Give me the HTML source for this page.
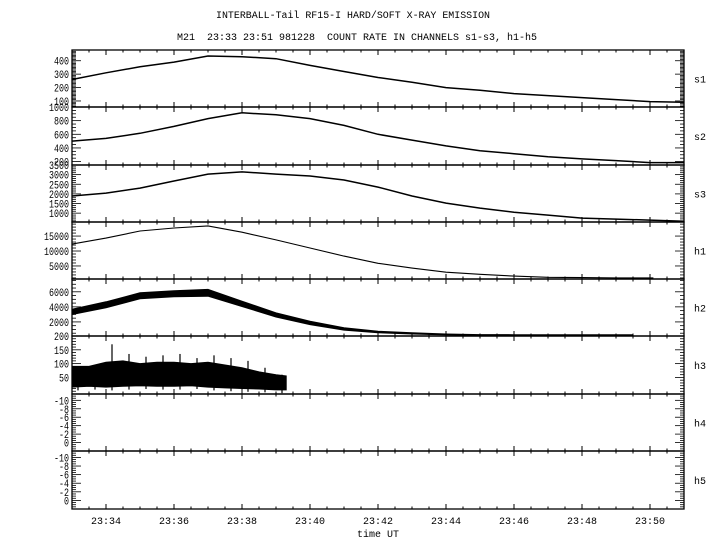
<!DOCTYPE html>
<html><head><meta charset="utf-8">
<style>
html,body{margin:0;padding:0;background:#fff;}
svg{display:block;font-family:"Liberation Mono","DejaVu Sans Mono",monospace;}
</style></head>
<body>
<svg id="chart" width="720" height="550" viewBox="0 0 720 550" xmlns="http://www.w3.org/2000/svg">
<text x="353" y="18" font-size="10" text-anchor="middle" textLength="274" lengthAdjust="spacingAndGlyphs">INTERBALL-Tail RF15-I HARD/SOFT X-RAY EMISSION</text>
<text x="357" y="40" font-size="10" text-anchor="middle" textLength="360" lengthAdjust="spacingAndGlyphs" xml:space="preserve">M21  23:33 23:51 981228  COUNT RATE IN CHANNELS s1-s3, h1-h5</text>
<text x="378" y="537" font-size="10" text-anchor="middle">time UT</text>
<g id="plots"></g>
</svg>
<script>
// minutes after 23:33 for sampled values
const minutes = [0,1,2,3,4,5,6,7,8,9,10,11,12,13,14,15,16,17,18];
const s1Values = [260,310,355,390,435,430,415,365,320,275,240,200,180,155,140,125,110,95,90];
const s2Values = [500,540,615,715,830,915,885,830,730,600,515,430,360,315,270,240,215,185,185];
const s3Values = [1890,2040,2300,2670,3030,3140,3030,2930,2720,2350,1890,1520,1260,1050,900,740,690,640,580];
const h1Minutes = [0,1,2,3,4,5,6,7,8,9,10,11,12,13,14,15,16,17.1];
const h1Values = [12300,14300,16700,17700,18400,16300,13700,11000,8300,5900,4300,2900,2200,1600,1200,1100,1000,1000];
const h2Minutes = [0,1,2,3,4,5,6,7,8,9,10,11,12,13,14,15,16.5];
const h2Values = [3330,4270,5470,5730,5870,4400,2930,1870,1070,670,470,330,270,270,270,270,270];
const h2Spread = [350,400,400,400,450,350,280,220,150,100,80,60,40,30,30,30,30];
const h3Minutes = [0,0.5,1,1.5,2,2.5,3,3.5,4,4.5,5,5.5,6,6.3];
const h3High = [90,90,105,110,100,105,105,100,105,95,85,70,60,55];
const h3Low = [15,18,15,18,20,18,18,20,15,12,10,8,5,5];
const h3Peaks = [85,95,170,135,125,130,135,120,130,120,110,85,60,55];
const yTickLabels = {
  s1:["100","200","300","400"], s2:["200","400","600","800","1000"],
  s3:["1000","1500","2000","2500","3000","3500"], h1:["5000","10000","15000"],
  h2:["2000","4000","6000"], h3:["50","100","150","200"],
  h4:["0","-2","-4","-6","-8","-10"], h5:["0","-2","-4","-6","-8","-10"]
};
const xTickLabels = ["23:34","23:36","23:38","23:40","23:42","23:44","23:46","23:48","23:50"];

const NS="http://www.w3.org/2000/svg";
const X0=72, X1=684, TMIN=0, TMAX=18;
const xs = t => X0 + (t-TMIN)/(TMAX-TMIN)*(X1-X0);
const panelTops=[50,107,165,222,279,336,394,451,509];
const panels=[
 {n:"s1",min:55,max:480,minor:10},
 {n:"s2",min:150,max:1000,minor:50},
 {n:"s3",min:540,max:3500,minor:100},
 {n:"h1",min:640,max:19700,minor:1000},
 {n:"h2",min:130,max:7700,minor:500},
 {n:"h3",min:-10,max:200,minor:10},
 {n:"h4",min:2,max:-11.5,minor:0.5},
 {n:"h5",min:2,max:-11.5,minor:0.5}
];
const root=document.getElementById('plots');
function mk(tag,attrs,parent){const e=document.createElementNS(NS,tag);for(const k in attrs)e.setAttribute(k,attrs[k]);(parent||root).appendChild(e);return e;}

panels.forEach((p,i)=>{
  const top=panelTops[i], bot=panelTops[i+1];
  const ys = v => bot - (v-p.min)/(p.max-p.min)*(bot-top);
  const g=mk('g',{});
  
  
  const fr=mk('rect',{x:X0,y:top,width:X1-X0,height:bot-top,fill:'none',stroke:'#000','stroke-width':1.3},g);
  
  
  for(let t=0.5;t<TMAX;t+=0.5){
    const x=xs(t), major=(Math.round(t*2)%4===2);
    const L=major?5:2.5;
    mk('line',{x1:x,x2:x,y1:top,y2:top+L,stroke:'#000','stroke-width':1},g);
    mk('line',{x1:x,x2:x,y1:bot,y2:bot-L,stroke:'#000','stroke-width':1},g);
  }
  const lo=Math.min(p.min,p.max), hi=Math.max(p.min,p.max);
  for(let v=Math.ceil(lo/p.minor)*p.minor; v<=hi; v+=p.minor){
    const y=ys(v);
    if(y<top+0.5||y>bot-0.5) continue;
    const lab=yTickLabels[p.n].indexOf(String(Math.round(v)))>=0 && Math.abs(v-Math.round(v))<1e-6;
    const L=lab?9:4;
    mk('line',{x1:X0,x2:X0+L,y1:y,y2:y,stroke:'#000','stroke-width':0.8},g);
    mk('line',{x1:X1,x2:X1-L,y1:y,y2:y,stroke:'#000','stroke-width':0.8},g);
  }
  yTickLabels[p.n].forEach(s=>{
    const y=Math.min(Math.max(ys(+s),top),bot);
    const t=mk('text',{x:69,y:y+4,'font-size':11,'text-anchor':'end',textLength:s.length*5,lengthAdjust:'spacingAndGlyphs'},g);
    t.textContent=s;
    
    
  });
  const nm=mk('text',{x:694,y:(top+bot)/2+4,'font-size':10},g);
  nm.textContent=p.n;
  
  
  p.ys=ys; p.g=g;
});

function stepLine(ts,vals,p,name,w){
  let d='';
  ts.forEach((t,i)=>{const x=xs(t),y=p.ys(vals[i]); d+=(i?'L':'M')+x.toFixed(1)+' '+y.toFixed(1)+' ';});
  const e=mk('path',{d:d,fill:'none',stroke:'#000','stroke-width':w||1.5},p.g);
  
  
}
stepLine(minutes,s1Values,panels[0],'series-s1');
stepLine(minutes,s2Values,panels[1],'series-s2');
stepLine(minutes,s3Values,panels[2],'series-s3');
stepLine(h1Minutes,h1Values,panels[3],'series-h1',1.1);
(function(){
  const p=panels[4]; let up='',dn='';
  h2Minutes.forEach((t,i)=>{up+=(i?'L':'M')+xs(t).toFixed(1)+' '+p.ys(h2Values[i]+h2Spread[i]).toFixed(1)+' ';});
  for(let i=h2Minutes.length-1;i>=0;i--) dn+='L'+xs(h2Minutes[i]).toFixed(1)+' '+p.ys(h2Values[i]-h2Spread[i]).toFixed(1)+' ';
  const e=mk('path',{d:up+dn+'Z',fill:'#000',stroke:'#000','stroke-width':1},p.g);
  
  
})();
(function(){
  const p=panels[5]; let up='',dn='';
  h3Minutes.forEach((t,i)=>{up+=(i?'L':'M')+xs(t).toFixed(1)+' '+p.ys(h3High[i]).toFixed(1)+' ';});
  for(let i=h3Minutes.length-1;i>=0;i--) dn+='L'+xs(h3Minutes[i]).toFixed(1)+' '+p.ys(h3Low[i]).toFixed(1)+' ';
  const e=mk('path',{d:up+dn+'Z',fill:'#000',stroke:'#000','stroke-width':1},p.g);
  
  
  h3Minutes.forEach((t,i)=>{
    if(i===h3Minutes.length-1) return;
    const l=mk('line',{x1:xs(t)+6,x2:xs(t)+6,y1:p.ys(h3Low[i]-12),y2:p.ys(h3Peaks[i]),stroke:'#000','stroke-width':1.2},p.g);
    
    
  });
})();
xTickLabels.forEach((s,i)=>{
  const t=mk('text',{x:xs(1+2*i),y:524,'font-size':10,'text-anchor':'middle'});
  t.textContent=s;
  
  
});
</script>
</body></html>
